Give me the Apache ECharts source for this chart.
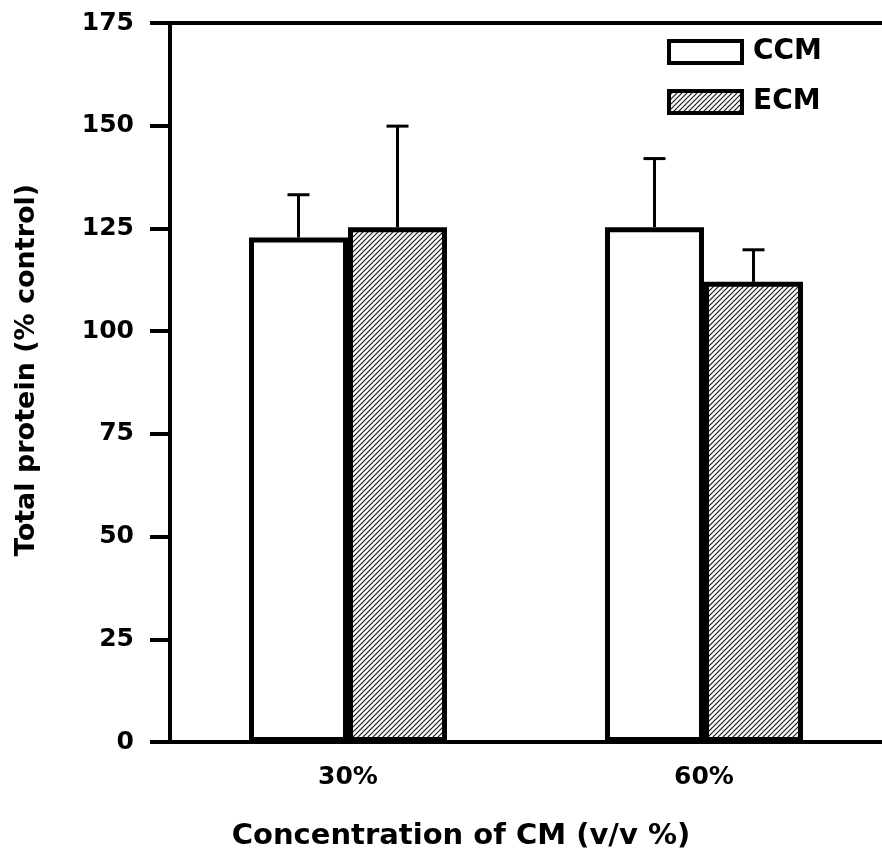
<!DOCTYPE html>
<html>
<head>
<meta charset="utf-8">
<script src="https://cdn.jsdelivr.net/npm/echarts@6/dist/echarts.min.js"></script>
<style>
  html, body { margin: 0; padding: 0; background: #fff; }
  #chart { width: 882px; height: 856px; }
</style>
</head>
<body>
<div id="chart"></div>
<script>
// Concentrations of conditioned medium
const categories = ['30%', '60%'];
// Total protein, % of control
const ccmValues = [122.8, 125.3];
const ecmValues = [125.3, 112.0];
// Upper error (SD)
const ccmErrors = [10.4, 16.7];
const ecmErrors = [24.6, 7.8];
const yTicks = [0, 25, 50, 75, 100, 125, 150, 175];

const FONT = '"DejaVu Sans", "Liberation Sans", Arial, sans-serif';
const BAR_W = 99;

// diagonal hatch fill for ECM bars
function hatchPattern() {
  const s = 5;
  const c = document.createElement('canvas');
  c.width = s; c.height = s;
  const g = c.getContext('2d');
  g.fillStyle = '#ffffff';
  g.fillRect(0, 0, s, s);
  g.strokeStyle = '#1a1a1a';
  g.lineWidth = 1.2;
  g.beginPath();
  g.moveTo(-1, s + 1); g.lineTo(s + 1, -1);
  g.moveTo(-1, 1); g.lineTo(1, -1);
  g.moveTo(s - 1, s + 1); g.lineTo(s + 1, s - 1);
  g.stroke();
  return { image: c, repeat: 'repeat' };
}
const hatch = hatchPattern();

function errorBarItem(offsetSign) {
  return function (params, api) {
    const x = api.value(0);
    const mean = api.value(1);
    const err = api.value(2);
    const base = api.coord([x, mean]);
    const top = api.coord([x, mean + err]);
    const cx = base[0] + offsetSign * BAR_W / 2;
    const half = 11;
    const st = { stroke: '#000', lineWidth: 3 };
    return {
      type: 'group',
      children: [
        { type: 'line', shape: { x1: cx, y1: base[1], x2: cx, y2: top[1] }, style: st },
        { type: 'line', shape: { x1: cx - half, y1: top[1], x2: cx + half, y2: top[1] }, style: st }
      ]
    };
  };
}

const chart = echarts.init(document.getElementById('chart'));
chart.setOption({
  animation: false,
  backgroundColor: '#fff',
  grid: { left: 170, top: 23, width: 720, height: 719, containLabel: false },
  legend: {
    data: ['CCM', 'ECM'],
    orient: 'vertical',
    left: 662,
    top: 33,
    itemWidth: 73,
    itemHeight: 22,
    itemGap: 22,
    icon: 'rect',
    selectedMode: false,
    itemStyle: { borderColor: '#000', borderWidth: 4 },
    textStyle: { fontFamily: FONT, fontWeight: 'bold', fontSize: 28, color: '#000', padding: [0, 0, 0, 6] }
  },
  xAxis: [
    {
      type: 'category',
      data: categories,
      position: 'bottom',
      axisLine: { lineStyle: { color: '#000', width: 4 } },
      axisTick: { show: false },
      axisLabel: { fontFamily: FONT, fontWeight: 'bold', fontSize: 25, color: '#000', margin: 23 }
    },
    {
      type: 'category',
      data: categories,
      position: 'top',
      axisLine: { lineStyle: { color: '#000', width: 4 } },
      axisTick: { show: false },
      axisLabel: { show: false }
    }
  ],
  yAxis: {
    type: 'value',
    min: 0,
    max: 175,
    interval: 25,
    axisLine: { show: true, lineStyle: { color: '#000', width: 4 } },
    axisTick: { show: true, inside: false, length: 20, lineStyle: { color: '#000', width: 4 } },
    axisLabel: {
      fontFamily: FONT, fontWeight: 'bold', fontSize: 25, color: '#000', margin: 36,
      formatter: v => (yTicks.indexOf(v) >= 0 ? String(v) : '')
    },
    splitLine: { show: false }
  },
  graphic: [
    {
      type: 'text',
      x: 27, y: 370,
      rotation: Math.PI / 2,
      style: {
        text: 'Total protein (% control)',
        fontFamily: FONT, fontWeight: 'bold', fontSize: 27, fill: '#000',
        align: 'center', verticalAlign: 'middle'
      }
    },
    {
      type: 'text',
      x: 461, y: 836,
      style: {
        text: 'Concentration of CM (v/v %)',
        fontFamily: FONT, fontWeight: 'bold', fontSize: 29, fill: '#000',
        align: 'center', verticalAlign: 'middle'
      }
    }
  ],
  series: [
    {
      name: 'CCM',
      type: 'bar',
      data: ccmValues,
      barWidth: BAR_W,
      barGap: '0%',
      itemStyle: { color: '#fff', borderColor: '#000', borderWidth: 5 },
      z: 2
    },
    {
      name: 'ECM',
      type: 'bar',
      data: ecmValues,
      barWidth: BAR_W,
      barGap: '0%',
      itemStyle: { color: hatch, borderColor: '#000', borderWidth: 5 },
      z: 2
    },
    {
      name: 'CCM error',
      type: 'custom',
      renderItem: errorBarItem(-1),
      data: ccmValues.map((v, i) => [i, v, ccmErrors[i]]),
      z: 3
    },
    {
      name: 'ECM error',
      type: 'custom',
      renderItem: errorBarItem(1),
      data: ecmValues.map((v, i) => [i, v, ecmErrors[i]]),
      z: 3
    }
  ]
});
</script>
</body>
</html>
